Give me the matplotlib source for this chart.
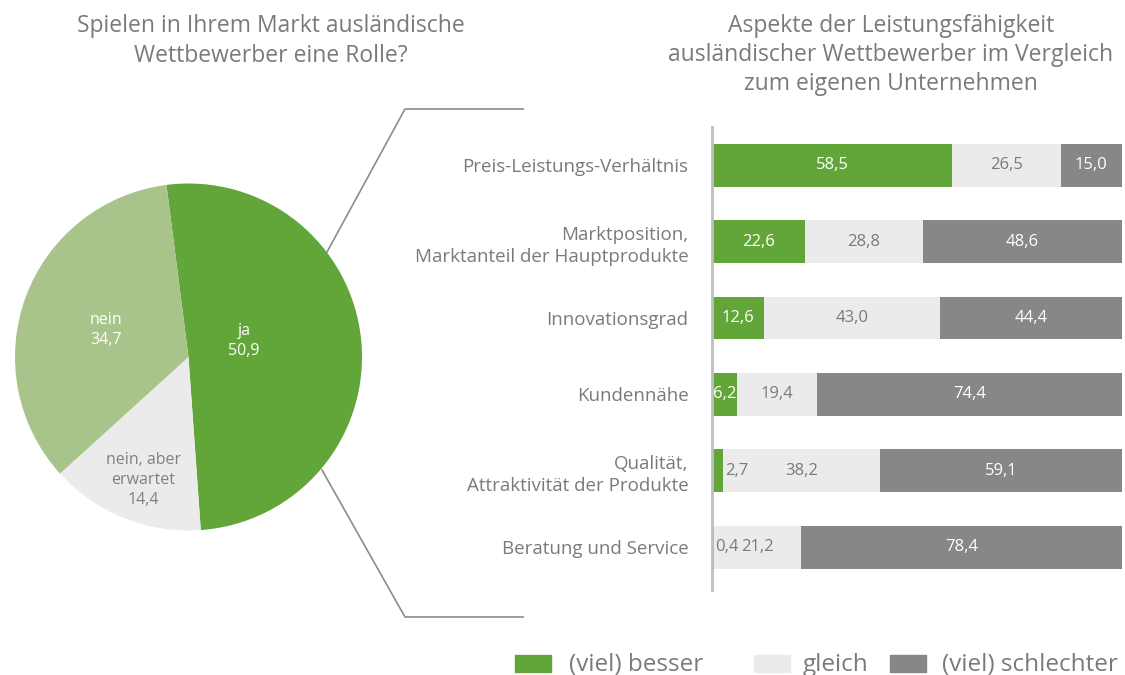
import matplotlib.pyplot as plt
from matplotlib.patches import Rectangle
from matplotlib.lines import Line2D

plt.rcParams['font.family'] = ['Open Sans', 'DejaVu Sans']

# pie data
pie_labels = ["ja", "nein, aber\nerwartet", "nein"]
pie_values = [50.9, 14.4, 34.7]
pie_colors = ["#62a539", "#ebebeb", "#a8c48a"]
pie_text_colors = ["white", "#808080", "white"]

# bar data
categories = [
    "Preis-Leistungs-Verhältnis",
    "Marktposition,\nMarktanteil der Hauptprodukte",
    "Innovationsgrad",
    "Kundennähe",
    "Qualität,\nAttraktivität der Produkte",
    "Beratung und Service",
]
besser = [58.5, 22.6, 12.6, 6.2, 2.7, 0.4]
gleich = [26.5, 28.8, 43.0, 19.4, 38.2, 21.2]
schlechter = [15.0, 48.6, 44.4, 74.4, 59.1, 78.4]
legend_labels = ["(viel) besser", "gleich", "(viel) schlechter"]
bar_colors = ["#62a539", "#ebebeb", "#878787"]

W, H = 1125, 675
TXT = "#7a7a7a"


def fx(x):
    return x / W


def fy(y):
    return 1 - y / H


def fmt(v):
    return f"{v:.1f}".replace(".", ",")


fig = plt.figure(figsize=(11.25, 6.75), dpi=100)

# titles
fig.text(fx(271), fy(41), "Spielen in Ihrem Markt ausländische\nWettbewerber eine Rolle?",
         ha="center", va="center", fontsize=16.5, color=TXT, linespacing=1.35)
fig.text(fx(891), fy(55), "Aspekte der Leistungsfähigkeit\nausländischer Wettbewerber im Vergleich\nzum eigenen Unternehmen",
         ha="center", va="center", fontsize=16.5, color=TXT, linespacing=1.3)

# pie chart
cx, cy, r = 188.5, 357, 173.5
ax_pie = fig.add_axes([fx(cx - r), fy(cy + r), 2 * r / W, 2 * r / H])
ax_pie.pie(pie_values, colors=pie_colors, startangle=97.3, counterclock=False,
           radius=1)
ax_pie.set_xlim(-1, 1)
ax_pie.set_ylim(-1, 1)
ax_pie.set_aspect("equal")
ax_pie.axis("off")
label_pos = [(0.32, 0.09), (-0.26, -0.71), (-0.475, 0.155)]
for lab, val, pos, col in zip(pie_labels, pie_values, label_pos, pie_text_colors):
    ax_pie.text(pos[0], pos[1], f"{lab}\n{fmt(val)}", ha="center", va="center",
                fontsize=11.5, color=col, linespacing=1.35)

# connector lines
line_kw = dict(color="#8c8c8c", lw=1.2, transform=fig.transFigure)
fig.add_artist(Line2D([fx(327), fx(405), fx(523)], [fy(252), fy(109), fy(109)], **line_kw))
fig.add_artist(Line2D([fx(322), fx(405), fx(523)], [fy(470), fy(617), fy(617)], **line_kw))

# stacked bar chart
ax = fig.add_axes([fx(712), fy(590), 410 / W, 463 / H])
ypos = list(range(len(categories)))
bh = 0.56
left = [0] * len(categories)
for series, color in zip([besser, gleich, schlechter], bar_colors):
    ax.barh(ypos, series, left=left, height=bh, color=color, edgecolor="none")
    for i, v in enumerate(series):
        if color == bar_colors[0] and v < 5:
            ax.text(left[i] + v + 0.4, i, fmt(v), ha="left", va="center",
                    fontsize=12, color=TXT)
        else:
            tc = TXT if color == bar_colors[1] else "white"
            ax.text(left[i] + v / 2, i, fmt(v), ha="center", va="center",
                    fontsize=12, color=tc)
    left = [a + b for a, b in zip(left, series)]

ax.set_xlim(0, 100)
ax.set_ylim(5.56, -0.5)
ax.set_yticks(ypos)
ax.set_yticklabels(categories, fontsize=13.5, color=TXT, linespacing=1.3)
ax.tick_params(axis="y", length=0, pad=17)
ax.set_xticks([])
for s in ["top", "right", "bottom"]:
    ax.spines[s].set_visible(False)
ax.spines["left"].set_color("#bfbfbf")
ax.spines["left"].set_linewidth(2)
for lab in ax.get_yticklabels():
    lab.set_multialignment("right")

# legend
leg_patch_x = [515, 754, 890]
leg_text_x = [569, 803, 942]
for px, tx, lab, col in zip(leg_patch_x, leg_text_x, legend_labels, bar_colors):
    fig.add_artist(Rectangle((fx(px), fy(672)), 36 / W, 17 / H, color=col,
                             transform=fig.transFigure))
    fig.text(fx(tx), fy(665), lab, ha="left", va="center", fontsize=17.5,
             color=TXT)

fig.savefig("out.png", dpi=100)
